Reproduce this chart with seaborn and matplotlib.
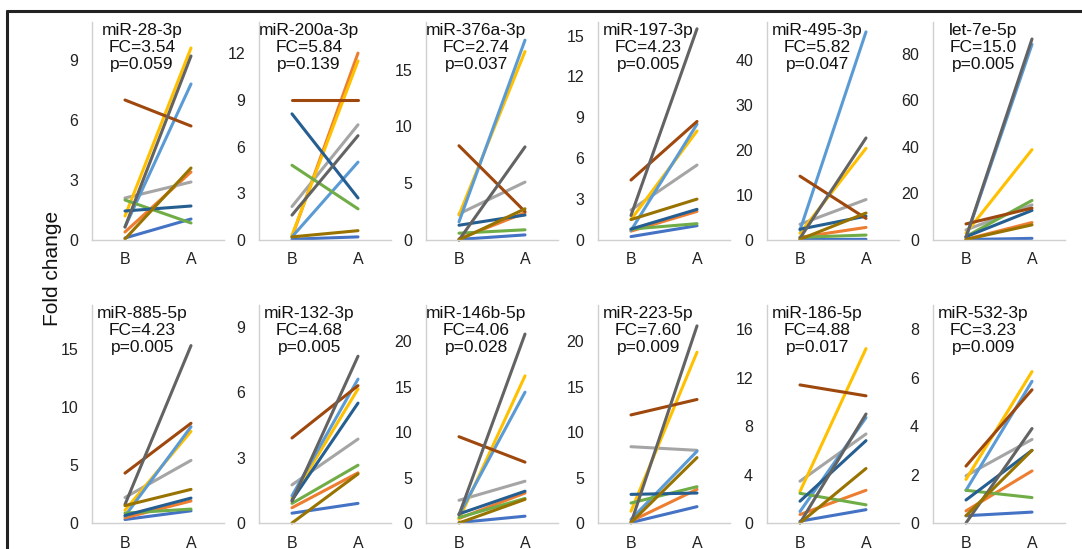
import matplotlib
matplotlib.use("Agg")
import matplotlib.pyplot as plt
from matplotlib.lines import Line2D
import pandas as pd
import seaborn as sns

# panel labels and stats
mirnas = ["miR-28-3p", "miR-200a-3p", "miR-376a-3p", "miR-197-3p", "miR-495-3p", "let-7e-5p",
          "miR-885-5p", "miR-132-3p", "miR-146b-5p", "miR-223-5p", "miR-186-5p", "miR-532-3p"]
fold_changes = ["3.54", "5.84", "2.74", "4.23", "5.82", "15.0",
                "4.23", "4.68", "4.06", "7.60", "4.88", "3.23"]
p_values = ["0.059", "0.139", "0.037", "0.005", "0.047", "0.005",
            "0.005", "0.005", "0.028", "0.009", "0.017", "0.009"]

# y axis ticks per panel
y_ticks = [[0, 3, 6, 9], [0, 3, 6, 9, 12], [0, 5, 10, 15], [0, 3, 6, 9, 12, 15],
           [0, 10, 20, 30, 40], [0, 20, 40, 60, 80],
           [0, 5, 10, 15], [0, 3, 6, 9], [0, 5, 10, 15, 20], [0, 5, 10, 15, 20],
           [0, 4, 8, 12, 16], [0, 2, 4, 6, 8]]
y_max = [10.9, 14, 19.2, 16, 48.5, 93.6, 18.8, 10, 24, 24, 18, 9]

subjects = [f"S{i}" for i in range(1, 11)]
colors = ["#4472C4", "#ED7D31", "#A5A5A5", "#FFC000", "#5B9BD5",
          "#70AD47", "#255E91", "#9E480E", "#636363", "#997300"]
time_labels = ["B", "A"]

# fold change before (B) and after (A), one row per panel, one value per subject
before = [
    [0.1, 0.4, 2.1, 1.2, 0.65, 2.0, 1.45, 7.0, 0.65, 0.05],
    [0.05, 0.2, 2.15, 0.3, 0.2, 4.8, 8.1, 9.0, 1.6, 0.2],
    [0.05, 0.1, 2.3, 2.2, 1.6, 0.6, 1.3, 8.3, 0.0, 0.0],
    [0.25, 0.65, 2.2, 1.5, 0.7, 0.8, 0.8, 4.4, 1.8, 1.5],
    [0.1, 0.6, 3.5, 1.5, 2.2, 0.6, 2.4, 14.2, 0.4, 0.15],
    [0.2, 0.3, 4.3, 3.0, 1.0, 1.5, 1.4, 6.9, 1.2, 0.2],
    [0.3, 0.45, 2.2, 1.1, 0.6, 0.85, 0.65, 4.3, 1.6, 1.5],
    [0.45, 0.7, 1.75, 1.15, 1.25, 0.9, 1.05, 3.9, 1.0, 0.0],
    [0.05, 0.5, 2.5, 0.4, 0.9, 0.6, 1.0, 9.5, 0.9, 0.0],
    [0.05, 0.2, 8.4, 1.3, 0.4, 2.2, 3.15, 11.9, 0.0, 0.05],
    [0.15, 0.7, 3.45, 2.6, 0.95, 2.45, 1.8, 11.4, 0.0, 0.0],
    [0.3, 0.5, 1.95, 1.8, 1.35, 1.35, 0.95, 2.35, 0.0, 0.3],
]
after = [
    [1.05, 3.4, 2.9, 9.6, 7.8, 0.85, 1.7, 5.7, 9.2, 3.6],
    [0.2, 12.0, 7.4, 11.5, 5.0, 2.0, 2.7, 9.0, 6.7, 0.6],
    [0.45, 2.4, 5.1, 16.6, 17.6, 0.9, 2.2, 2.5, 8.2, 2.75],
    [1.05, 2.1, 5.5, 8.0, 8.5, 1.2, 2.25, 8.7, 15.5, 3.0],
    [0.15, 2.8, 9.0, 20.4, 46.3, 1.1, 5.3, 4.8, 22.7, 6.0],
    [0.7, 7.5, 15.1, 38.8, 84.0, 17.0, 12.7, 13.7, 86.3, 6.5],
    [1.05, 1.9, 5.4, 7.9, 8.3, 1.2, 2.15, 8.6, 15.3, 2.9],
    [0.9, 2.3, 3.85, 6.15, 6.6, 2.65, 5.5, 6.3, 7.65, 2.25],
    [0.75, 3.3, 4.6, 16.2, 14.4, 2.7, 3.5, 6.7, 20.8, 2.6],
    [1.8, 3.7, 8.0, 18.8, 7.9, 4.0, 3.3, 13.6, 21.7, 7.2],
    [1.1, 2.7, 7.35, 14.4, 8.7, 1.5, 6.8, 10.5, 9.0, 4.5],
    [0.45, 2.15, 3.45, 6.25, 5.85, 1.05, 3.0, 5.5, 3.9, 3.0],
]

rows = []
for i, name in enumerate(mirnas):
    for j, subj in enumerate(subjects):
        rows.append({"mirna": name, "subject": subj, "time": 0, "value": before[i][j]})
        rows.append({"mirna": name, "subject": subj, "time": 1, "value": after[i][j]})
df = pd.DataFrame(rows)

sns.set_theme(style="white")
plt.rcParams["font.family"] = ["Liberation Sans", "DejaVu Sans"]

W, H = 1082, 549
fig = plt.figure(figsize=(W / 100, H / 100), dpi=100)

lefts = [92, 259, 426, 598, 767, 933]
row_bottoms = [240, 523]
ax_w, ax_h = 132, 218

for i, name in enumerate(mirnas):
    r, c = divmod(i, 6)
    ax = fig.add_axes([lefts[c] / W, (H - row_bottoms[r]) / H, ax_w / W, ax_h / H])
    sns.lineplot(
        data=df[df["mirna"] == name],
        x="time",
        y="value",
        hue="subject",
        hue_order=subjects,
        palette=colors,
        estimator=None,
        sort=False,
        legend=False,
        linewidth=2.2,
        clip_on=False,
        ax=ax,
    )
    ax.set_xlim(-0.5, 1.5)
    ax.set_ylim(0, y_max[i])
    ax.set_xticks([0, 1])
    ax.set_xticklabels(time_labels)
    ax.set_yticks(y_ticks[i])
    ax.set_xlabel("")
    ax.set_ylabel("")
    ax.tick_params(axis="both", length=0, labelsize=11.5, colors="#222222")
    ax.tick_params(axis="y", pad=10)
    ax.tick_params(axis="x", pad=9)
    for side in ["top", "right"]:
        ax.spines[side].set_visible(False)
    for side in ["left", "bottom"]:
        ax.spines[side].set_color("#D0D0D0")
        ax.spines[side].set_linewidth(1.0)
    ax.text(0.38, 0.995, f"{name}\nFC={fold_changes[i]}\np={p_values[i]}",
            transform=ax.transAxes, ha="center", va="top",
            fontsize=12.5, linespacing=1.18, color="#111111")

fig.text(52 / W, 1 - 268 / H, "Fold change", rotation=90, ha="center", va="center",
         fontsize=15, color="#111111")

# frame around the figure (left and top edges visible)
fig.add_artist(Line2D([7 / W, 7 / W], [0, 1 - 11 / H], transform=fig.transFigure,
                      color="#222222", linewidth=2.2))
fig.add_artist(Line2D([7 / W, 1], [1 - 11 / H, 1 - 11 / H], transform=fig.transFigure,
                      color="#222222", linewidth=2.2))

fig.savefig("out.png", dpi=100)
